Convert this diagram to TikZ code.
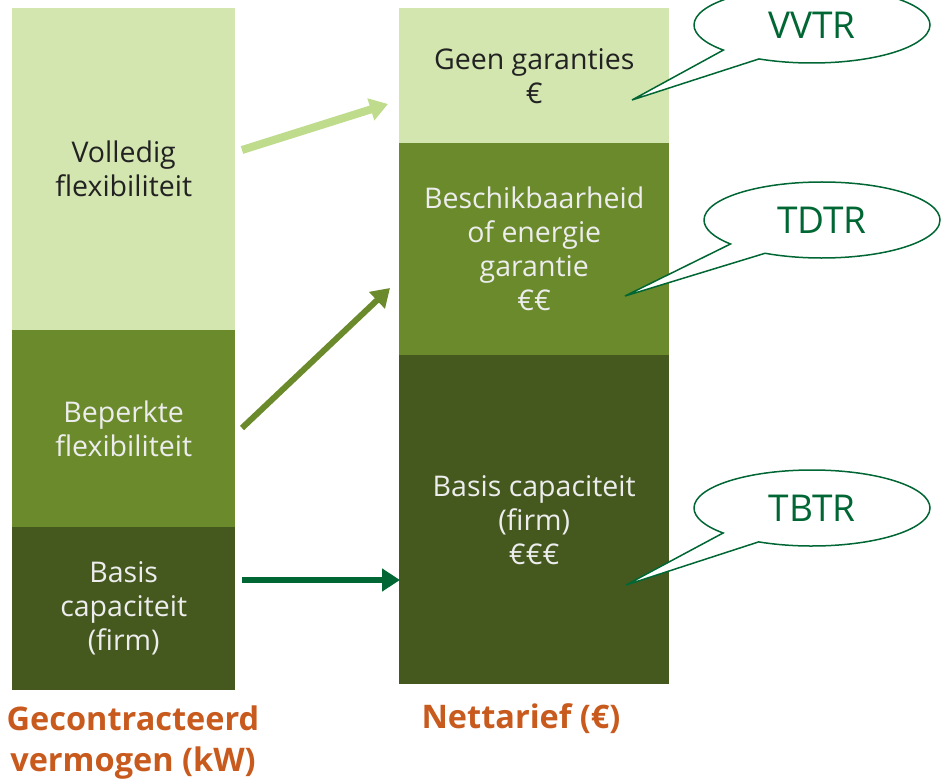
\documentclass[tikz,border=0pt]{standalone}
\usepackage{fontspec}
\setmainfont{Open Sans}
\usetikzlibrary{arrows.meta,shapes.callouts}
\definecolor{lightg}{RGB}{211,230,176}
\definecolor{midg}{RGB}{106,138,44}
\definecolor{darkg}{RGB}{69,89,31}
\definecolor{arrlight}{RGB}{190,220,140}
\definecolor{deepg}{RGB}{0,102,51}
\definecolor{orangel}{RGB}{200,90,30}
\definecolor{txtdark}{RGB}{34,34,34}
\begin{document}
\begin{tikzpicture}[x=1pt,y=-1pt,
  box/.style={anchor=north west,inner sep=0pt,align=center,
    font=\fontsize{28.5}{34}\selectfont},
  lbox/.style={box,fill=lightg,text=txtdark},
  mbox/.style={box,fill=midg,text=white!93!black},
  dbox/.style={box,fill=darkg,text=white!93!black},
  bubble/.style={ellipse callout,draw=deepg,line width=1.5pt,fill=white,
    text=deepg,font=\fontsize{37}{40}\selectfont,minimum width=236pt,
    minimum height=76pt,inner sep=0pt,callout pointer arc=22},
  label/.style={text=orangel,font=\fontsize{32.5}{41}\selectfont\bfseries,align=center},
  arr/.style={-{Triangle[length=18pt,width=22pt]}}
]
\useasboundingbox (0,0) rectangle (941,783);
% left column
\node[lbox,minimum width=223pt,minimum height=322pt] (l1) at (12,8) {Volledig\\flexibiliteit};
\node[mbox,minimum width=223pt,minimum height=197pt] (l2) at (12,330) {Beperkte\\flexibiliteit};
\node[dbox,minimum width=223pt,minimum height=163pt] (l3) at (12,527) {Basis\\capaciteit\\(firm)};
% right column
\node[lbox,minimum width=270pt,minimum height=135pt] (r1) at (399,8) {Geen garanties\\€};
\node[mbox,minimum width=270pt,minimum height=212pt] (r2) at (399,143) {Beschikbaarheid\\of energie\\garantie\\€€};
\node[dbox,minimum width=270pt,minimum height=329pt] (r3) at (399,355) {Basis capaciteit\\(firm)\\€€€};
% labels
\node[label] (lab1) at (133,743) {Gecontracteerd\\vermogen (kW)};
\node[label] (lab2) at (521,719) {Nettarief (€)};
% arrows
\coordinate (a1s) at (242,150); \coordinate (a1e) at (388,104);
\coordinate (a2s) at (242,428); \coordinate (a2e) at (390,288);
\coordinate (a3s) at (242,580); \coordinate (a3e) at (400,580);
\draw[arr,arrlight,line width=8pt] (a1s) -- (a1e);
\draw[arr,midg,line width=6pt] (a2s) -- (a2e);
\draw[arr,deepg,line width=6pt] (a3s) -- (a3e);
% callouts
\coordinate (t1) at (632,100);
\coordinate (t2) at (625,296);
\coordinate (t3) at (626,585);
\node[bubble,callout absolute pointer={(t1)}] (c1) at (812,25) {VVTR};
\node[bubble,callout absolute pointer={(t2)}] (c2) at (822,220) {TDTR};
\node[bubble,callout absolute pointer={(t3)}] (c3) at (812,508) {TBTR};
\end{tikzpicture}
\end{document}
